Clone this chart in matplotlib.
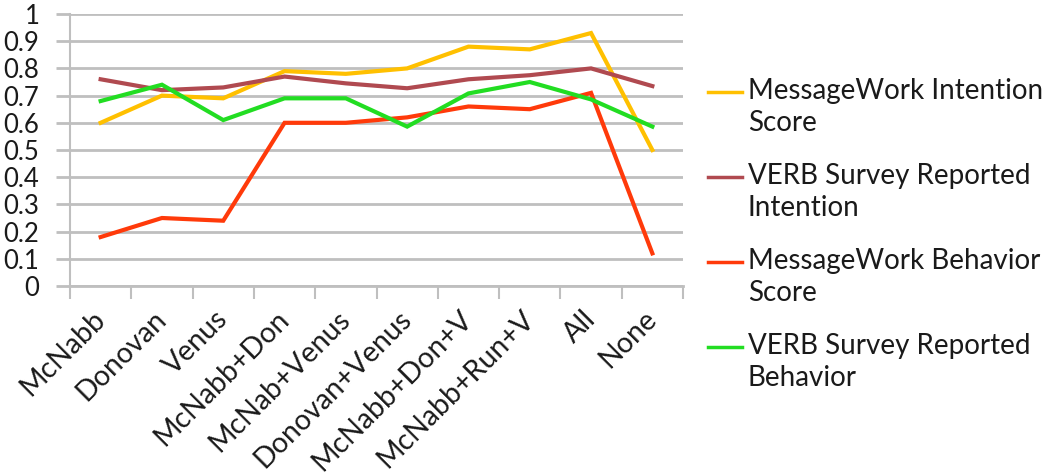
import matplotlib
matplotlib.use("Agg")
import matplotlib.pyplot as plt
import matplotlib.transforms as mtrans
from matplotlib.lines import Line2D

categories = ["McNabb", "Donovan", "Venus", "McNabb+Don", "McNab+Venus",
              "Donovan+Venus", "McNabb+Don+V", "McNabb+Run+V", "All", "None"]
mw_intention = [0.60, 0.70, 0.69, 0.79, 0.78, 0.80, 0.88, 0.87, 0.93, 0.50]
verb_intention = [0.76, 0.72, 0.73, 0.77, 0.745, 0.727, 0.76, 0.775, 0.80, 0.735]
mw_behavior = [0.18, 0.25, 0.24, 0.60, 0.60, 0.62, 0.66, 0.65, 0.71, 0.12]
verb_behavior = [0.68, 0.74, 0.61, 0.69, 0.69, 0.586, 0.708, 0.75, 0.686, 0.586]
series_names = ["MessageWork Intention\nScore", "VERB Survey Reported\nIntention",
                "MessageWork Behavior\nScore", "VERB Survey Reported\nBehavior"]
series_values = [mw_intention, verb_intention, mw_behavior, verb_behavior]
colors = ["#FFC000", "#B04A50", "#FF3A0A", "#22DD22"]
yticks = [0, 0.1, 0.2, 0.3, 0.4, 0.5, 0.6, 0.7, 0.8, 0.9, 1]
ytick_labels = ["0", "0.1", "0.2", "0.3", "0.4", "0.5", "0.6", "0.7", "0.8", "0.9", "1"]

plt.rcParams['font.family'] = ['Lato', 'DejaVu Sans']
fig = plt.figure(figsize=(10.5, 4.75), dpi=100)
ax = fig.add_axes([70/1050, 1-286/475, (683-70)/1050, (286-14)/475])

x = list(range(len(categories)))
for vals, c in zip(series_values, colors):
    ax.plot(x, vals, color=c, lw=3, solid_joinstyle='miter', zorder=3)

ax.set_xlim(-0.5, len(categories) - 0.5)
ax.set_ylim(0, 1)
ax.set_yticks(yticks)
ax.set_yticklabels(ytick_labels, fontsize=18.5, color="#1a1a1a")
ax.yaxis.grid(True, color="#BFBFBF", lw=2)
ax.set_axisbelow(True)
for s in ["top", "right"]:
    ax.spines[s].set_visible(False)
ax.spines["left"].set_color("#BFBFBF")
ax.spines["left"].set_linewidth(1.5)
ax.spines["bottom"].set_color("#BFBFBF")
ax.spines["bottom"].set_linewidth(2)
ax.tick_params(axis='y', length=10, width=2, color="#BFBFBF", pad=12)

# x ticks at category boundaries, labels at centres
ax.set_xticks([i - 0.5 for i in range(len(categories) + 1)])
ax.set_xticklabels([])
ax.tick_params(axis='x', length=9, width=1.5, color="#BFBFBF")
ax.set_xticks(x, minor=True)
ax.set_xticklabels(categories, minor=True, rotation=45, ha='right',
                   rotation_mode='anchor', fontsize=20.5, color="#1a1a1a")
ax.tick_params(axis='x', which='minor', length=0, pad=14)
offset = mtrans.ScaledTranslation(-9/100, 0, fig.dpi_scale_trans)
for lbl in ax.xaxis.get_minorticklabels():
    lbl.set_transform(lbl.get_transform() + offset)

# legend
y0 = 1 - 92/475
step = 85/475
for i, (name, c) in enumerate(zip(series_names, colors)):
    yy = y0 - i * step
    fig.add_artist(Line2D([708/1050, 742/1050], [yy, yy], color=c, lw=2.5,
                          transform=fig.transFigure))
    fig.text(748/1050, yy + 14/475, name, fontsize=20, color="#1a1a1a",
             va='top', ha='left', linespacing=1.3)

fig.savefig("out.png", dpi=100)
